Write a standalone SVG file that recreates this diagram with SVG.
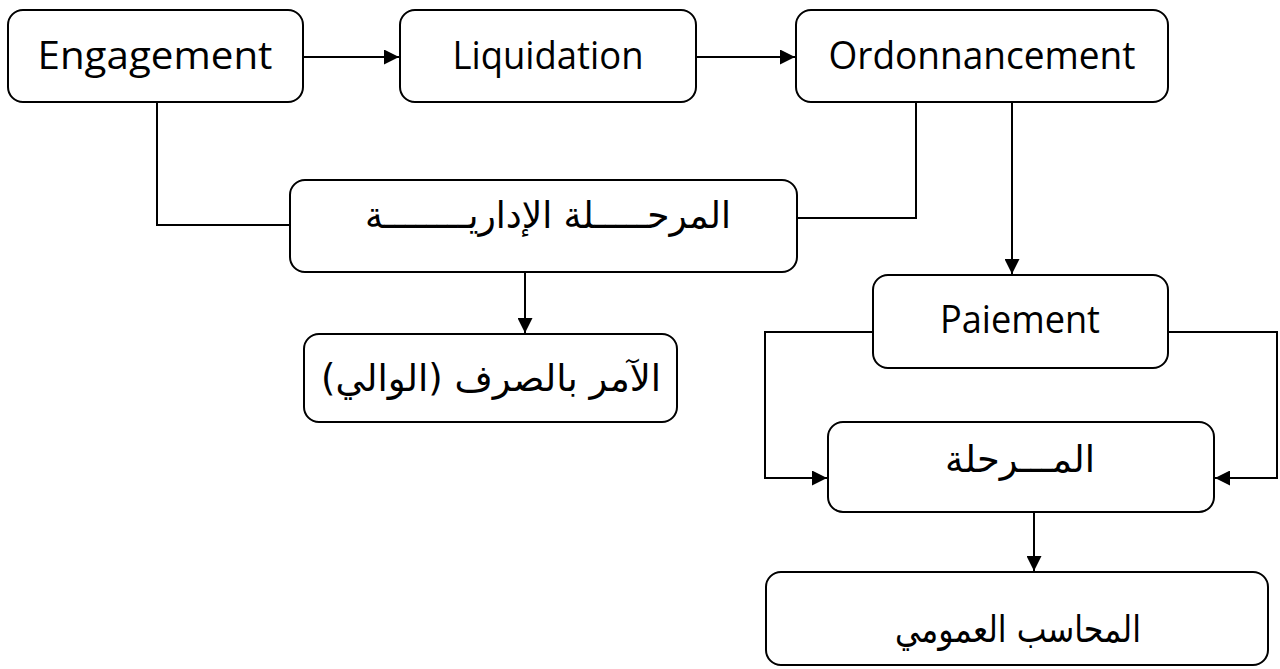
<svg xmlns="http://www.w3.org/2000/svg" width="1280" height="669" viewBox="0 0 1280 669">
<defs>
<marker id="ah" viewBox="0 0 10 10" refX="10" refY="5" markerWidth="16" markerHeight="15" markerUnits="userSpaceOnUse" orient="auto">
<path d="M0,0 L10,5 L0,10 Z" fill="#000"/>
</marker>
</defs>
<style>
.box{fill:#fff;stroke:#000;stroke-width:2}
.lat{font-family:"Open Sans","Noto Sans",sans-serif;font-size:38px;fill:#000;text-anchor:middle}
.ar{font-family:"DejaVu Sans","Noto Sans",sans-serif;font-size:37px;fill:#000;text-anchor:middle}
.ln{fill:none;stroke:#000;stroke-width:2}
</style>
<rect width="1280" height="669" fill="#fff"/>
<g id="connectors">
<line class="ln" x1="303" y1="57" x2="399" y2="57" marker-end="url(#ah)"/>
<line class="ln" x1="696" y1="57" x2="795" y2="57" marker-end="url(#ah)"/>
<polyline class="ln" points="157,102 157,225 290,225"/>
<polyline class="ln" points="916,102 916,218 797,218"/>
<line class="ln" x1="525" y1="272" x2="525" y2="333" marker-end="url(#ah)"/>
<line class="ln" x1="1012" y1="102" x2="1012" y2="274" marker-end="url(#ah)"/>
<polyline class="ln" points="873,332 765,332 765,478 827,478" marker-end="url(#ah)"/>
<polyline class="ln" points="1167,332 1277,332 1277,478 1215,478" marker-end="url(#ah)"/>
<line class="ln" x1="1034" y1="512" x2="1034" y2="571" marker-end="url(#ah)"/>
</g>
<g id="engagement">
<rect class="box" x="8" y="10" width="295" height="92" rx="15"/>
<text class="lat" x="155" y="69" textLength="235" lengthAdjust="spacingAndGlyphs">Engagement</text>
</g>
<g id="liquidation">
<rect class="box" x="400" y="10" width="296" height="92" rx="15"/>
<text class="lat" x="548" y="69" textLength="191" lengthAdjust="spacingAndGlyphs">Liquidation</text>
</g>
<g id="ordonnancement">
<rect class="box" x="796" y="10" width="372" height="92" rx="15"/>
<text class="lat" x="982" y="69" textLength="307" lengthAdjust="spacingAndGlyphs">Ordonnancement</text>
</g>
<g id="phase-admin">
<rect class="box" x="290" y="180" width="507" height="92" rx="15"/>
<text class="ar" x="548" y="228" direction="rtl" textLength="366" lengthAdjust="spacingAndGlyphs">المرحـــــلة الإداريــــــــة</text>
</g>
<g id="wali">
<rect class="box" x="304" y="334" width="373" height="88" rx="15"/>
<text class="ar" x="491" y="391" direction="rtl" textLength="340" lengthAdjust="spacingAndGlyphs">الآمر بالصرف (الوالي)</text>
</g>
<g id="paiement">
<rect class="box" x="873" y="275" width="295" height="93" rx="15"/>
<text class="lat" x="1020" y="333" textLength="160" lengthAdjust="spacingAndGlyphs">Paiement</text>
</g>
<g id="phase">
<rect class="box" x="828" y="422" width="386" height="90" rx="15"/>
<text class="ar" x="1020" y="472" direction="rtl" textLength="150" lengthAdjust="spacingAndGlyphs">المـــرحلة</text>
</g>
<g id="comptable">
<rect class="box" x="766" y="572" width="502" height="93" rx="15"/>
<text class="ar" x="1018" y="642" direction="rtl" textLength="246" lengthAdjust="spacingAndGlyphs">المحاسب العمومي</text>
</g>
</svg>
